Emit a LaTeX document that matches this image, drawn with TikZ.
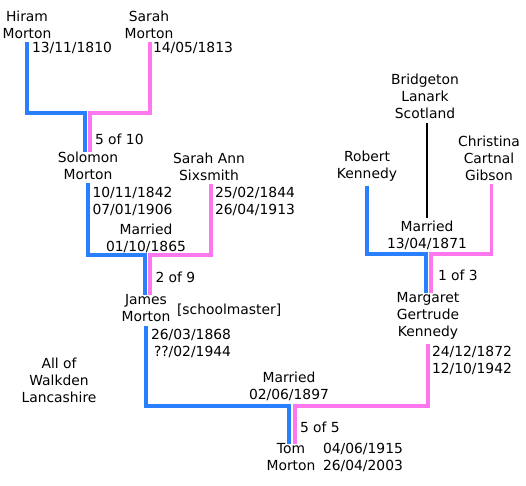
\documentclass[tikz,border=0pt]{standalone}
\usepackage{fontspec}
\setmainfont{DejaVu Sans}
\definecolor{pblue}{RGB}{42,127,255}
\definecolor{ppink}{RGB}{255,119,238}
\begin{document}
\begin{tikzpicture}[x=0.75pt,y=-0.75pt,
  every node/.style={inner sep=0pt,outer sep=0pt,font=\fontsize{10.4pt}{12.75pt}\selectfont},
  person/.style={align=center},
  info/.style={align=left,anchor=west},
  bl/.style={draw=pblue,line width=2.4pt,line join=miter},
  pk/.style={draw=ppink,line width=2.4pt,line join=miter},
  place/.style={draw=black,line width=0.8pt}]
\useasboundingbox (0,0) rectangle (526,486);
% people
\node[person] (hiram) at (27,24.5) {Hiram\\Morton};
\node[person] (sarahm) at (149,24.5) {Sarah\\Morton};
\node[person] (solomon) at (88,165.5) {Solomon\\Morton};
\node[person] (sarahann) at (209,166.5) {Sarah Ann\\Sixsmith};
\node[person] (james) at (146,308.5) {James\\Morton};
\node[person] (bridgeton) at (425,96.5) {Bridgeton\\Lanark\\Scotland};
\node[person] (robert) at (367,166.5) {Robert\\Kennedy};
\node[person] (christina) at (489,158) {Christina\\Cartnal\\Gibson};
\node[person] (margaret) at (428,316) {Margaret\\Gertrude\\Kennedy};
\node[person] (walkden) at (59,380) {All of\\Walkden\\Lancashire};
\node[person] (tom) at (291,457.5) {Tom\\Morton};
% info
\node[info] (d1) at (32,48) {13/11/1810};
\node[info] (d2) at (153,48) {14/05/1813};
\node[info] (c1) at (95,139) {5 of 10};
\node[info] (d3) at (92.5,201.5) {10/11/1842\\07/01/1906};
\node[info] (d4) at (215,201.5) {25/02/1844\\26/04/1913};
\node[person] (m1) at (146,238.5) {Married\\01/10/1865};
\node[info] (c2) at (155.5,277.5) {2 of 9};
\node[info] (school) at (177,310.5) {[schoolmaster]};
\node[align=right,anchor=east] (d5) at (231,343.5) {26/03/1868\\??/02/1944};
\node[person] (m2) at (427,235) {Married\\13/04/1871};
\node[info] (c3) at (438,275) {1 of 3};
\node[info] (d6) at (432,360.5) {24/12/1872\\12/10/1942};
\node[person] (m3) at (289,386.5) {Married\\02/06/1897};
\node[info] (c4) at (300,427) {5 of 5};
\node[info] (d7) at (323,457.5) {04/06/1915\\26/04/2003};
% junctions
\coordinate (j1b) at (85,113);  \coordinate (j1p) at (90,113);
\coordinate (j2b) at (145,255); \coordinate (j2p) at (150,255);
\coordinate (j3b) at (426,254); \coordinate (j3p) at (431,254);
\coordinate (j4b) at (289,406); \coordinate (j4p) at (295,406);
% connectors
\draw[bl] ([yshift=-3pt]hiram.south) |- (j1b) -- (j1b |- solomon.north);
\draw[pk] ([xshift=0.75pt,yshift=-3pt]sarahm.south) |- (j1p) -- (j1p |- solomon.north);
\draw[bl] ([yshift=-3pt]solomon.south) |- (j2b) -- (j2b |- james.north);
\draw[pk] ([xshift=1.5pt,yshift=-3pt]sarahann.south) |- (j2p) -- (j2p |- james.north);
\draw[bl] ([yshift=-3pt]robert.south) |- (j3b) -- (j3b |- margaret.north);
\draw[pk] ([xshift=2pt,yshift=-3pt]christina.south) |- (j3p) -- (j3p |- margaret.north);
\draw[place] ([xshift=1.5pt,yshift=-3pt]bridgeton.south) -- ([xshift=1.5pt,yshift=2pt]bridgeton.south |- m2.north);
\draw[bl] ([yshift=-3pt]james.south) |- (j4b) -- (j4b |- tom.north);
\draw[pk] ([yshift=-3pt]margaret.south) |- (j4p) -- (j4p |- tom.north);
\end{tikzpicture}
\end{document}
